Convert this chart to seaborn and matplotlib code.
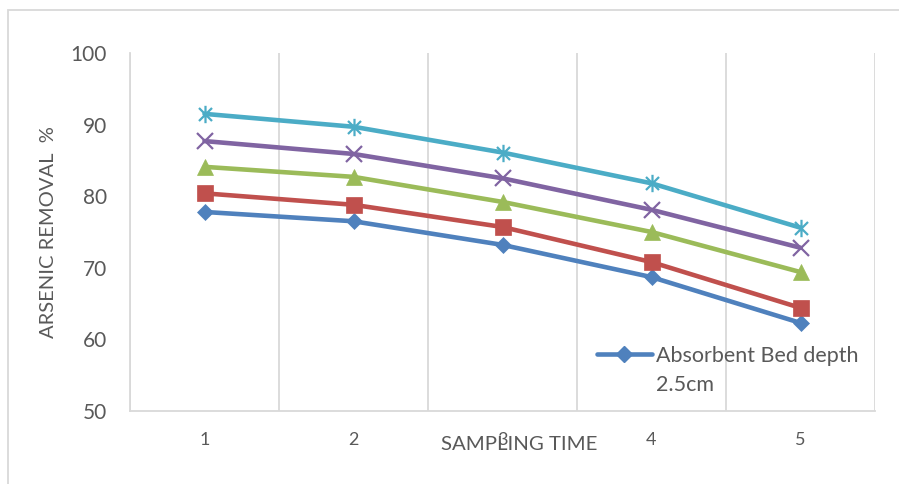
import matplotlib
matplotlib.use("Agg")
import matplotlib.pyplot as plt
from matplotlib.lines import Line2D
from matplotlib.patches import Rectangle
from matplotlib.path import Path
import numpy as np
import pandas as pd
import seaborn as sns

# Sampling times and removal efficiency (%) for each absorbent bed depth
sampling_time = [1, 2, 3, 4, 5]
depth_labels = ["Absorbent Bed depth 2.5cm", "Absorbent Bed depth 5cm",
                "Absorbent Bed depth 7.5cm", "Absorbent Bed depth 10cm",
                "Absorbent Bed depth 12.5cm"]
removal_d1 = [77.8, 76.5, 73.2, 68.7, 62.3]
removal_d2 = [80.4, 78.8, 75.7, 70.8, 64.4]
removal_d3 = [84.1, 82.7, 79.2, 75.0, 69.4]
removal_d4 = [87.7, 85.9, 82.5, 78.1, 72.8]
removal_d5 = [91.5, 89.7, 86.1, 81.8, 75.6]
y_ticks = [50, 60, 70, 80, 90, 100]

series = [removal_d1, removal_d2, removal_d3, removal_d4, removal_d5]
df = pd.DataFrame({
    "time": sampling_time * len(series),
    "removal": [v for s in series for v in s],
    "depth": [lab for lab, s in zip(depth_labels, series) for _ in s],
})

sns.set_theme(style="white")
plt.rcParams["font.family"] = ["Lato", "DejaVu Sans"]

# asterisk marker: vertical bar plus an x
star = Path([(0, -1), (0, 1), (-0.75, -0.75), (0.75, 0.75), (-0.75, 0.75), (0.75, -0.75)],
            [Path.MOVETO, Path.LINETO, Path.MOVETO, Path.LINETO, Path.MOVETO, Path.LINETO])

colors = ["#4F81BD", "#C0504D", "#9BBB59", "#8064A2", "#4BACC6"]
markers = ["D", "s", "^", "x", star]
msizes = [8, 11, 12, 11, 12.5]
mews = [0.5, 0.5, 0.5, 1.6, 1.6]

W, H = 899, 484
fig = plt.figure(figsize=(W / 100, H / 100), dpi=100)
ax = fig.add_axes([130 / W, 1 - 411 / H, (875 - 130) / W, (411 - 53) / H])

for lab, col, mk, ms, mw in zip(depth_labels, colors, markers, msizes, mews):
    sub = df[df["depth"] == lab]
    sns.lineplot(data=sub, x="time", y="removal", ax=ax, color=col, lw=3.3,
                 marker=mk, markersize=ms, markeredgecolor=col, markerfacecolor=col,
                 markeredgewidth=mw, legend=False)

ax.set_xlim(0.5, 5.5)
ax.set_ylim(50, 100)
ax.set_yticks(y_ticks)
ax.set_xticks(sampling_time)
ax.set_xticks(np.arange(0.5, 6.0, 1.0), minor=True)
ax.grid(False)
ax.grid(True, which="minor", axis="x", color="#d9d9d9", lw=1.3)
ax.tick_params(which="both", length=0)
ax.tick_params(axis="y", labelsize=15, labelcolor="#595959", pad=16.5)
ax.tick_params(axis="x", labelsize=13, labelcolor="#595959", pad=15)
for side in ["top", "right"]:
    ax.spines[side].set_visible(False)
for side in ["left", "bottom"]:
    ax.spines[side].set_color("#d9d9d9")
    ax.spines[side].set_linewidth(1.3)
ax.set_xlabel("")
ax.set_ylabel("")

fig.text(519 / W, 1 - 444 / H, "SAMPLING TIME", ha="center", va="center",
         fontsize=14.7, color="#595959")
fig.text(49 / W, 1 - 232 / H, "ARSENIC REMOVAL  %", ha="center", va="center",
         rotation=90, fontsize=14.5, color="#595959")

# legend shows only the first bed depth, wrapped onto two lines
h0 = Line2D([], [], color=colors[0], lw=3.3, marker="D", markersize=8,
            markeredgecolor=colors[0], markerfacecolor=colors[0])
blank = Line2D([], [], color="none")
ax.legend([h0, blank], ["Absorbent Bed depth", "2.5cm"], loc="upper left",
          bbox_to_anchor=((597 - 130) / (875 - 130), (411 - 346) / (411 - 53)),
          frameon=False, fontsize=15.5, labelcolor="#595959", handlelength=2.55,
          handletextpad=0.2, labelspacing=0.4, borderpad=0, borderaxespad=0)

# chart area border
fig.patches.append(Rectangle((8 / W, -0.1), 1.2, 1.1 - 10 / H, transform=fig.transFigure,
                             fill=False, edgecolor="#d9d9d9", lw=1.3))

fig.savefig("out.png", dpi=100, facecolor="white")
